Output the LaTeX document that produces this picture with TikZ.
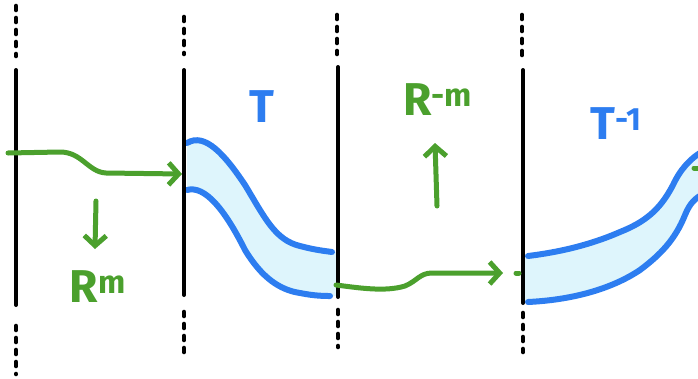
\documentclass[tikz,border=0pt]{standalone}
\usepackage{fontspec}
\setmainfont{Fira Sans}
\usepackage{tikz}
\usetikzlibrary{arrows.meta}
\definecolor{penblue}{RGB}{45,125,240}
\definecolor{pengreen}{RGB}{75,160,45}
\definecolor{bandcyan}{RGB}{222,245,252}
\tikzset{every picture/.style={line width=0.75pt},
  wall/.style={line width=4pt,line cap=round},
  wallgap/.style={line width=4.6pt,line cap=round,dash pattern={on 4pt off 8pt}},
  bandedge/.style={draw=penblue,line width=6pt,line cap=round},
  flow/.style={draw=pengreen,line width=5pt,line cap=round,line join=round,
    -{Straight Barb[length=10pt,width=22pt,line width=5pt]}},
  hand/.style={font=\fontsize{46}{46}\selectfont\bfseries,inner sep=0pt}}

\begin{document}
\begin{tikzpicture}[x=1pt,y=1pt,yscale=-1]
\clip (0,0) rectangle (698,378);

%Bands [id:band T]
\fill [bandcyan] (187,143) .. controls (205,132) and (225,155) .. (245,185) .. controls (265,218) and (275,240) .. (300,246) .. controls (315,250) and (325,251) .. (338,252) -- (338,296) -- (332,296) .. controls (325,296) and (315,296) .. (300,293) .. controls (280,290) and (262,278) .. (245,250) .. controls (225,210) and (205,185) .. (187,190) -- cycle ;
\draw [bandedge] (187,143) .. controls (205,132) and (225,155) .. (245,185) .. controls (265,218) and (275,240) .. (300,246) .. controls (315,250) and (325,251) .. (332,252) ;
\draw [bandedge] (187,190) .. controls (205,185) and (225,210) .. (245,250) .. controls (262,278) and (280,290) .. (300,293) .. controls (315,296) and (325,296) .. (330,296) ;
%Bands [id:band Tinv]
\fill [bandcyan] (524,256) .. controls (560,252) and (590,245) .. (620,232) .. controls (645,222) and (660,210) .. (673,185) .. controls (680,170) and (690,158) .. (705,150) -- (705,193) .. controls (695,198) and (690,203) .. (685,215) .. controls (675,240) and (660,255) .. (640,270) .. controls (610,290) and (570,300) .. (524,302) -- cycle ;
\draw [bandedge] (528,256) .. controls (560,252) and (590,245) .. (620,232) .. controls (645,222) and (660,210) .. (673,185) .. controls (680,170) and (690,158) .. (705,150) ;
\draw [bandedge] (528,302) .. controls (570,300) and (610,290) .. (640,270) .. controls (660,255) and (675,240) .. (685,215) .. controls (690,203) and (695,198) .. (705,193) ;

%Straight Lines [id:walls]
\draw [wall] (16,70) -- (16,305) ;
\draw [wallgap] (16,6) -- (16,56) ; \draw [wallgap] (16,326) -- (16,374) ;
\draw [wall] (184,70) -- (184,295) ;
\draw [wallgap] (184,17) -- (184,54) ; \draw [wallgap] (184,312) -- (184,356) ;
\draw [wall] (338,67) -- (338,297) ;
\draw [wallgap] (337,15) -- (337,54) ; \draw [wallgap] (338,310) -- (338,347) ;
\draw [wall] (523,70) -- (523,303) ;
\draw [wallgap] (522,15) -- (522,57) ; \draw [wallgap] (523,313) -- (523,352) ;

%Arrows [id:flows]
\coordinate (out0) at (8,153) ;
\coordinate (in1) at (182,174) ;
\coordinate (out1) at (336,285) ;
\coordinate (in2) at (503,273) ;
\draw [flow] (out0) -- (60,152) .. controls (82,152) and (88,172) .. (106,173) -- (in1) ;
\draw [flow] (out1) .. controls (360,288) and (385,292) .. (405,286) .. controls (417,281) and (420,273) .. (432,273) -- (in2) ;
\draw [pengreen,line width=5pt,line cap=round] (516,273) -- (519,273) ;
\draw [pengreen,line width=5pt,line cap=round] (694,168) -- (700,168) ;
\coordinate (downa) at (96,201) ;
\coordinate (downb) at (95,249) ;
\coordinate (upa) at (437,206) ;
\coordinate (upb) at (435,143) ;
\draw [flow] (downa) -- (downb) ;
\draw [flow] (upa) -- (upb) ;

% Text Node
\node [hand,pengreen] (Rm) at (98,287) {R\textsuperscript{m}} ;
\node [hand,pengreen] (Rinv) at (438,100) {R\textsuperscript{-m}} ;
\node [hand,penblue] (T) at (262,107) {T} ;
\node [hand,penblue] (Tinv) at (616,124) {T\textsuperscript{-1}} ;

\end{tikzpicture}
\end{document}
